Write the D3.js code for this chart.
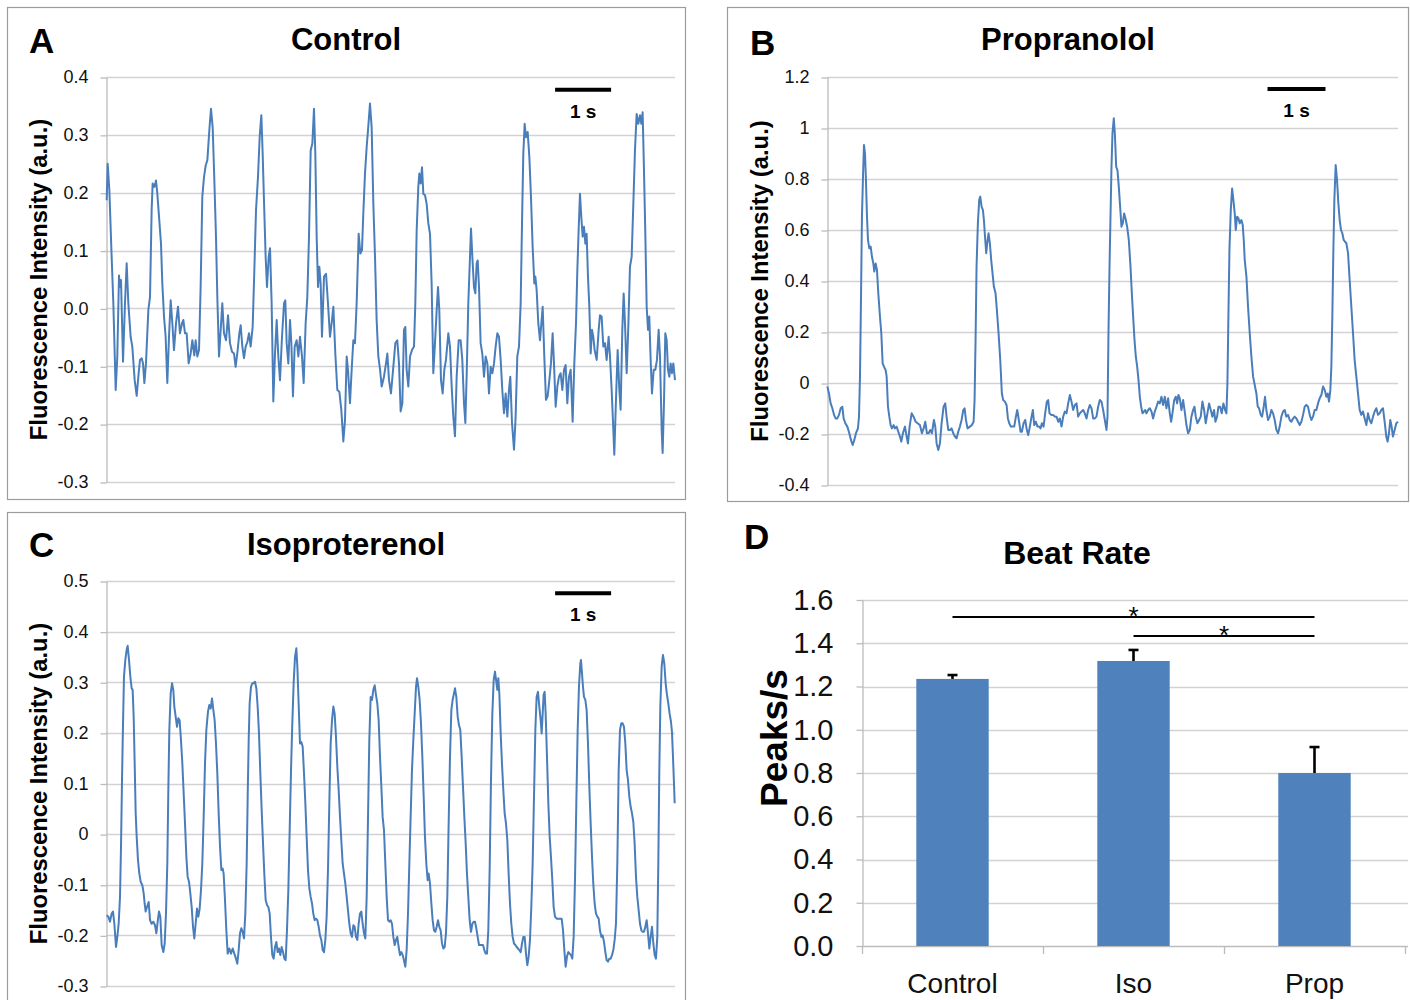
<!DOCTYPE html>
<html><head><meta charset="utf-8">
<script src="https://cdn.jsdelivr.net/npm/d3@7/dist/d3.min.js"></script>
<style>
body{margin:0;background:#fff;}
svg{display:block;font-family:"Liberation Sans",Arial,Helvetica,sans-serif;}
</style></head><body>
<svg id="chart" width="1410" height="1000"></svg>
<script>
// ---------- DATA ----------
// time (s), fluorescence (a.u.)
const controlTrace = [[0.012,0.187],[0.030,0.250],[0.060,0.204],[0.101,0.089],[0.131,0.009],[0.173,-0.141],[0.202,-0.083],[0.232,0.057],[0.250,0.037],[0.268,0.049],[0.304,-0.092],[0.339,0.009],[0.369,0.078],[0.399,0.009],[0.440,-0.049],[0.470,-0.066],[0.512,-0.124],[0.548,-0.151],[0.583,-0.112],[0.607,-0.089],[0.637,-0.086],[0.661,-0.095],[0.685,-0.129],[0.714,-0.095],[0.756,-0.003],[0.786,0.020],[0.815,0.170],[0.833,0.216],[0.863,0.210],[0.893,0.221],[0.917,0.198],[0.952,0.152],[0.982,0.112],[1.006,0.043],[1.036,-0.014],[1.065,-0.049],[1.095,-0.129],[1.125,-0.049],[1.155,0.014],[1.185,-0.026],[1.214,-0.072],[1.250,-0.026],[1.286,0.003],[1.321,-0.043],[1.357,-0.026],[1.381,-0.020],[1.411,-0.043],[1.440,-0.043],[1.476,-0.095],[1.512,-0.078],[1.542,-0.055],[1.577,-0.081],[1.601,-0.055],[1.631,-0.083],[1.661,-0.072],[1.690,0.037],[1.720,0.193],[1.750,0.227],[1.780,0.247],[1.810,0.256],[1.845,0.308],[1.875,0.345],[1.905,0.313],[1.935,0.221],[1.964,0.124],[1.988,0.020],[2.018,-0.083],[2.048,-0.037],[2.077,0.009],[2.107,-0.043],[2.143,-0.055],[2.179,-0.012],[2.214,-0.060],[2.250,-0.075],[2.286,-0.078],[2.315,-0.101],[2.351,-0.072],[2.381,-0.043],[2.405,-0.029],[2.435,-0.066],[2.464,-0.086],[2.494,-0.066],[2.524,-0.058],[2.554,-0.043],[2.583,-0.066],[2.619,-0.032],[2.649,0.066],[2.679,0.170],[2.714,0.227],[2.744,0.296],[2.774,0.334],[2.798,0.267],[2.821,0.187],[2.851,0.089],[2.875,0.037],[2.905,0.089],[2.929,0.104],[2.958,0.009],[2.988,-0.161],[3.018,-0.078],[3.048,-0.020],[3.077,-0.083],[3.107,-0.124],[3.143,-0.049],[3.179,0.009],[3.202,0.014],[3.226,-0.060],[3.256,-0.095],[3.286,-0.020],[3.310,-0.060],[3.339,-0.152],[3.369,-0.066],[3.405,-0.055],[3.435,-0.083],[3.464,-0.049],[3.500,-0.083],[3.530,-0.129],[3.565,-0.026],[3.595,0.020],[3.625,0.124],[3.655,0.273],[3.685,0.285],[3.714,0.345],[3.738,0.267],[3.762,0.124],[3.786,0.037],[3.810,0.072],[3.833,0.043],[3.857,-0.049],[3.893,0.055],[3.929,0.060],[3.964,0.009],[4.000,-0.049],[4.036,-0.020],[4.060,0.003],[4.095,-0.078],[4.131,-0.141],[4.167,-0.144],[4.202,-0.175],[4.238,-0.230],[4.268,-0.193],[4.298,-0.083],[4.321,-0.106],[4.357,-0.164],[4.387,-0.106],[4.417,-0.055],[4.446,-0.060],[4.476,0.009],[4.512,0.129],[4.542,0.095],[4.571,0.101],[4.595,0.164],[4.625,0.233],[4.655,0.279],[4.685,0.316],[4.714,0.354],[4.744,0.313],[4.774,0.181],[4.804,0.089],[4.833,-0.020],[4.863,-0.083],[4.893,-0.105],[4.923,-0.135],[4.964,-0.118],[5.000,-0.095],[5.024,-0.078],[5.054,-0.124],[5.089,-0.147],[5.131,-0.101],[5.167,-0.060],[5.202,-0.055],[5.232,-0.095],[5.262,-0.178],[5.292,-0.164],[5.321,-0.037],[5.345,-0.032],[5.369,-0.106],[5.399,-0.135],[5.429,-0.083],[5.464,-0.072],[5.500,-0.066],[5.524,0.009],[5.548,0.135],[5.577,0.210],[5.595,0.233],[5.619,0.216],[5.643,0.244],[5.667,0.198],[5.696,0.196],[5.726,0.181],[5.756,0.147],[5.786,0.129],[5.815,0.043],[5.845,-0.112],[5.875,-0.060],[5.905,-0.003],[5.929,0.037],[5.952,-0.003],[5.982,-0.124],[6.012,-0.147],[6.042,-0.106],[6.071,-0.089],[6.113,-0.043],[6.143,-0.066],[6.173,-0.135],[6.202,-0.187],[6.232,-0.221],[6.262,-0.118],[6.298,-0.055],[6.333,-0.055],[6.363,-0.089],[6.393,-0.164],[6.417,-0.198],[6.440,-0.118],[6.470,0.009],[6.500,0.089],[6.518,0.138],[6.542,0.089],[6.571,0.037],[6.595,0.026],[6.619,0.078],[6.637,0.083],[6.661,0.037],[6.690,-0.060],[6.720,-0.078],[6.750,-0.118],[6.780,-0.083],[6.810,-0.095],[6.839,-0.147],[6.869,-0.101],[6.899,-0.112],[6.929,-0.095],[6.958,-0.066],[6.988,-0.043],[7.018,-0.049],[7.048,-0.089],[7.077,-0.141],[7.107,-0.181],[7.137,-0.147],[7.167,-0.187],[7.196,-0.141],[7.220,-0.118],[7.250,-0.198],[7.286,-0.244],[7.315,-0.187],[7.345,-0.083],[7.375,-0.066],[7.405,0.009],[7.429,0.147],[7.452,0.267],[7.476,0.319],[7.500,0.296],[7.530,0.305],[7.560,0.262],[7.589,0.193],[7.619,0.106],[7.649,0.043],[7.667,0.055],[7.690,0.032],[7.720,-0.026],[7.750,-0.055],[7.774,-0.026],[7.798,0.003],[7.827,-0.083],[7.857,-0.158],[7.887,-0.152],[7.917,-0.124],[7.946,-0.095],[7.976,-0.043],[8.000,-0.095],[8.030,-0.170],[8.060,-0.135],[8.089,-0.118],[8.119,-0.112],[8.149,-0.141],[8.179,-0.106],[8.208,-0.098],[8.238,-0.164],[8.268,-0.118],[8.298,-0.106],[8.333,-0.196],[8.363,-0.095],[8.393,-0.026],[8.417,0.066],[8.440,0.135],[8.464,0.198],[8.488,0.158],[8.512,0.124],[8.536,0.141],[8.560,0.112],[8.583,0.129],[8.607,0.055],[8.631,0.003],[8.655,-0.078],[8.679,-0.037],[8.702,-0.049],[8.726,-0.072],[8.762,-0.089],[8.798,-0.037],[8.821,-0.012],[8.851,-0.014],[8.881,-0.066],[8.911,-0.060],[8.940,-0.089],[8.976,-0.049],[9.000,-0.083],[9.030,-0.141],[9.060,-0.210],[9.077,-0.253],[9.107,-0.158],[9.137,-0.072],[9.167,-0.141],[9.190,-0.175],[9.220,-0.037],[9.244,0.026],[9.268,-0.026],[9.298,-0.112],[9.327,-0.032],[9.357,0.072],[9.387,0.089],[9.417,0.181],[9.446,0.273],[9.476,0.336],[9.506,0.319],[9.536,0.334],[9.560,0.319],[9.583,0.339],[9.607,0.239],[9.631,0.129],[9.655,0.003],[9.679,-0.037],[9.702,-0.014],[9.726,-0.089],[9.750,-0.147],[9.780,-0.106],[9.810,-0.106],[9.839,-0.089],[9.869,-0.037],[9.893,-0.083],[9.923,-0.210],[9.940,-0.250],[9.964,-0.164],[9.988,-0.043],[10.012,-0.055],[10.036,-0.106],[10.060,-0.118],[10.083,-0.095],[10.107,-0.112],[10.131,-0.095],[10.161,-0.124]];

const propranololTrace = [[0.006,-0.014],[0.034,-0.041],[0.063,-0.080],[0.092,-0.099],[0.121,-0.125],[0.149,-0.139],[0.178,-0.139],[0.207,-0.125],[0.236,-0.099],[0.264,-0.093],[0.287,-0.139],[0.316,-0.158],[0.351,-0.171],[0.385,-0.197],[0.414,-0.224],[0.443,-0.243],[0.471,-0.224],[0.500,-0.197],[0.534,-0.178],[0.552,-0.132],[0.569,0.025],[0.586,0.325],[0.603,0.652],[0.621,0.809],[0.638,0.933],[0.655,0.901],[0.672,0.796],[0.690,0.652],[0.707,0.561],[0.730,0.528],[0.753,0.535],[0.776,0.495],[0.799,0.469],[0.816,0.437],[0.839,0.469],[0.862,0.443],[0.885,0.352],[0.914,0.260],[0.937,0.195],[0.960,0.077],[0.983,0.064],[1.011,0.051],[1.029,0.025],[1.052,-0.093],[1.075,-0.132],[1.098,-0.165],[1.121,-0.178],[1.149,-0.165],[1.172,-0.178],[1.201,-0.171],[1.230,-0.191],[1.259,-0.210],[1.282,-0.230],[1.310,-0.197],[1.345,-0.171],[1.374,-0.210],[1.397,-0.237],[1.425,-0.171],[1.460,-0.119],[1.494,-0.132],[1.529,-0.152],[1.563,-0.158],[1.603,-0.165],[1.638,-0.197],[1.667,-0.178],[1.695,-0.152],[1.724,-0.197],[1.753,-0.197],[1.782,-0.184],[1.810,-0.197],[1.845,-0.145],[1.868,-0.171],[1.891,-0.237],[1.920,-0.263],[1.948,-0.237],[1.977,-0.158],[2.011,-0.093],[2.040,-0.080],[2.063,-0.132],[2.092,-0.184],[2.121,-0.184],[2.149,-0.178],[2.178,-0.197],[2.207,-0.210],[2.236,-0.217],[2.264,-0.191],[2.293,-0.171],[2.322,-0.145],[2.351,-0.106],[2.374,-0.099],[2.397,-0.145],[2.425,-0.178],[2.466,-0.171],[2.500,-0.165],[2.529,-0.152],[2.546,-0.067],[2.563,0.169],[2.580,0.456],[2.603,0.626],[2.626,0.718],[2.644,0.731],[2.667,0.692],[2.690,0.678],[2.707,0.639],[2.730,0.561],[2.747,0.509],[2.764,0.548],[2.787,0.587],[2.810,0.548],[2.833,0.482],[2.856,0.430],[2.879,0.378],[2.908,0.352],[2.931,0.286],[2.960,0.195],[2.989,0.090],[3.017,-0.041],[3.040,-0.067],[3.069,-0.073],[3.098,-0.086],[3.121,-0.139],[3.144,-0.158],[3.172,-0.171],[3.201,-0.171],[3.230,-0.171],[3.259,-0.132],[3.282,-0.106],[3.310,-0.145],[3.339,-0.191],[3.362,-0.191],[3.391,-0.158],[3.420,-0.145],[3.443,-0.178],[3.471,-0.204],[3.500,-0.171],[3.529,-0.132],[3.552,-0.106],[3.575,-0.165],[3.603,-0.152],[3.632,-0.171],[3.661,-0.171],[3.684,-0.178],[3.707,-0.158],[3.736,-0.171],[3.764,-0.119],[3.793,-0.073],[3.816,-0.067],[3.839,-0.119],[3.868,-0.125],[3.902,-0.125],[3.931,-0.132],[3.960,-0.132],[3.989,-0.152],[4.017,-0.139],[4.046,-0.171],[4.075,-0.132],[4.103,-0.112],[4.132,-0.119],[4.161,-0.080],[4.190,-0.047],[4.218,-0.073],[4.247,-0.106],[4.276,-0.086],[4.305,-0.080],[4.333,-0.132],[4.362,-0.119],[4.391,-0.112],[4.420,-0.106],[4.448,-0.119],[4.477,-0.139],[4.506,-0.106],[4.534,-0.086],[4.563,-0.099],[4.592,-0.139],[4.621,-0.139],[4.649,-0.132],[4.678,-0.093],[4.707,-0.067],[4.736,-0.073],[4.764,-0.106],[4.793,-0.145],[4.822,-0.184],[4.839,-0.132],[4.856,0.195],[4.874,0.456],[4.891,0.652],[4.908,0.848],[4.925,0.979],[4.948,1.038],[4.966,0.979],[4.989,0.848],[5.011,0.835],[5.034,0.770],[5.057,0.692],[5.080,0.613],[5.103,0.626],[5.126,0.665],[5.149,0.646],[5.178,0.613],[5.207,0.561],[5.236,0.456],[5.259,0.352],[5.282,0.260],[5.305,0.169],[5.328,0.103],[5.351,0.064],[5.374,0.012],[5.397,-0.054],[5.420,-0.093],[5.443,-0.119],[5.466,-0.112],[5.489,-0.106],[5.511,-0.119],[5.540,-0.106],[5.569,-0.099],[5.598,-0.112],[5.626,-0.139],[5.655,-0.112],[5.684,-0.093],[5.713,-0.073],[5.741,-0.080],[5.770,-0.054],[5.799,-0.086],[5.828,-0.054],[5.856,-0.099],[5.885,-0.060],[5.914,-0.119],[5.937,-0.152],[5.960,-0.119],[5.989,-0.067],[6.017,-0.054],[6.040,-0.080],[6.063,-0.047],[6.086,-0.060],[6.115,-0.106],[6.144,-0.067],[6.172,-0.112],[6.201,-0.165],[6.230,-0.197],[6.259,-0.184],[6.287,-0.132],[6.316,-0.106],[6.339,-0.093],[6.362,-0.132],[6.391,-0.158],[6.420,-0.145],[6.448,-0.132],[6.477,-0.073],[6.506,-0.106],[6.534,-0.158],[6.563,-0.119],[6.592,-0.080],[6.621,-0.106],[6.649,-0.132],[6.678,-0.106],[6.701,-0.152],[6.730,-0.132],[6.753,-0.093],[6.782,-0.093],[6.810,-0.119],[6.839,-0.080],[6.868,-0.106],[6.891,-0.119],[6.908,-0.001],[6.925,0.260],[6.943,0.522],[6.966,0.678],[6.989,0.763],[7.011,0.718],[7.034,0.665],[7.052,0.600],[7.075,0.652],[7.098,0.646],[7.121,0.626],[7.149,0.639],[7.172,0.620],[7.190,0.561],[7.207,0.482],[7.236,0.417],[7.264,0.299],[7.293,0.195],[7.322,0.103],[7.351,0.025],[7.379,-0.008],[7.408,-0.041],[7.431,-0.093],[7.454,-0.099],[7.483,-0.125],[7.506,-0.132],[7.534,-0.093],[7.557,-0.054],[7.580,-0.106],[7.609,-0.145],[7.638,-0.132],[7.667,-0.106],[7.695,-0.119],[7.724,-0.145],[7.753,-0.184],[7.782,-0.197],[7.810,-0.171],[7.839,-0.132],[7.868,-0.112],[7.897,-0.106],[7.925,-0.132],[7.954,-0.125],[7.983,-0.145],[8.011,-0.152],[8.040,-0.139],[8.069,-0.132],[8.098,-0.139],[8.126,-0.152],[8.155,-0.165],[8.184,-0.152],[8.213,-0.125],[8.241,-0.093],[8.270,-0.086],[8.299,-0.093],[8.328,-0.125],[8.356,-0.145],[8.385,-0.132],[8.414,-0.106],[8.443,-0.106],[8.471,-0.080],[8.500,-0.060],[8.529,-0.047],[8.557,-0.014],[8.586,-0.027],[8.615,-0.054],[8.638,-0.041],[8.661,-0.073],[8.684,-0.027],[8.701,0.064],[8.718,0.260],[8.736,0.522],[8.753,0.718],[8.776,0.855],[8.799,0.796],[8.822,0.705],[8.845,0.639],[8.868,0.600],[8.891,0.587],[8.914,0.561],[8.937,0.554],[8.960,0.548],[8.989,0.509],[9.017,0.404],[9.046,0.299],[9.075,0.195],[9.103,0.090],[9.132,0.025],[9.161,-0.041],[9.190,-0.106],[9.218,-0.125],[9.247,-0.112],[9.276,-0.139],[9.305,-0.165],[9.333,-0.119],[9.362,-0.145],[9.391,-0.158],[9.420,-0.132],[9.448,-0.112],[9.477,-0.099],[9.506,-0.125],[9.534,-0.119],[9.563,-0.106],[9.592,-0.099],[9.621,-0.152],[9.649,-0.210],[9.672,-0.230],[9.695,-0.197],[9.718,-0.145],[9.741,-0.171],[9.764,-0.210],[9.793,-0.184],[9.822,-0.158],[9.851,-0.152]];

const isoproterenolTrace = [[0.012,-0.160],[0.042,-0.163],[0.071,-0.173],[0.101,-0.157],[0.125,-0.153],[0.149,-0.177],[0.179,-0.223],[0.202,-0.203],[0.226,-0.177],[0.250,-0.124],[0.268,-0.025],[0.286,0.107],[0.304,0.219],[0.321,0.311],[0.345,0.344],[0.369,0.364],[0.387,0.372],[0.411,0.344],[0.435,0.311],[0.458,0.288],[0.476,0.285],[0.494,0.232],[0.512,0.140],[0.530,0.041],[0.548,-0.005],[0.571,-0.051],[0.595,-0.078],[0.619,-0.094],[0.649,-0.101],[0.673,-0.117],[0.690,-0.137],[0.708,-0.153],[0.732,-0.144],[0.762,-0.134],[0.786,-0.170],[0.815,-0.177],[0.845,-0.173],[0.875,-0.180],[0.899,-0.196],[0.923,-0.173],[0.946,-0.153],[0.970,-0.163],[0.994,-0.219],[1.024,-0.233],[1.048,-0.216],[1.071,-0.157],[1.095,-0.058],[1.113,0.087],[1.131,0.206],[1.155,0.278],[1.179,0.298],[1.202,0.285],[1.220,0.252],[1.244,0.232],[1.268,0.212],[1.292,0.229],[1.315,0.225],[1.339,0.186],[1.363,0.140],[1.387,0.080],[1.411,0.021],[1.435,-0.045],[1.458,-0.084],[1.482,-0.094],[1.506,-0.117],[1.530,-0.144],[1.554,-0.183],[1.577,-0.206],[1.601,-0.177],[1.625,-0.147],[1.649,-0.163],[1.673,-0.147],[1.696,-0.111],[1.720,-0.058],[1.744,0.034],[1.768,0.140],[1.792,0.206],[1.821,0.242],[1.845,0.255],[1.869,0.248],[1.893,0.268],[1.917,0.245],[1.940,0.225],[1.964,0.179],[1.988,0.120],[2.012,0.041],[2.036,-0.025],[2.060,-0.071],[2.083,-0.068],[2.101,-0.078],[2.125,-0.130],[2.149,-0.190],[2.173,-0.236],[2.202,-0.226],[2.232,-0.236],[2.262,-0.226],[2.292,-0.236],[2.321,-0.246],[2.345,-0.256],[2.369,-0.229],[2.393,-0.196],[2.417,-0.186],[2.440,-0.193],[2.464,-0.206],[2.488,-0.157],[2.512,-0.058],[2.530,0.074],[2.548,0.186],[2.565,0.258],[2.589,0.291],[2.613,0.298],[2.637,0.298],[2.661,0.301],[2.685,0.288],[2.708,0.252],[2.732,0.199],[2.756,0.120],[2.780,0.047],[2.804,-0.018],[2.827,-0.078],[2.851,-0.130],[2.875,-0.140],[2.899,-0.144],[2.923,-0.157],[2.946,-0.203],[2.970,-0.239],[2.994,-0.246],[3.018,-0.223],[3.042,-0.213],[3.065,-0.233],[3.089,-0.226],[3.113,-0.239],[3.137,-0.223],[3.161,-0.233],[3.185,-0.246],[3.208,-0.249],[3.232,-0.190],[3.256,-0.111],[3.280,0.008],[3.304,0.126],[3.327,0.219],[3.351,0.298],[3.375,0.350],[3.399,0.367],[3.417,0.331],[3.440,0.258],[3.464,0.179],[3.488,0.182],[3.512,0.173],[3.536,0.120],[3.560,0.061],[3.583,-0.005],[3.607,-0.071],[3.631,-0.107],[3.655,-0.124],[3.679,-0.137],[3.702,-0.157],[3.726,-0.170],[3.750,-0.167],[3.774,-0.170],[3.798,-0.183],[3.821,-0.200],[3.845,-0.209],[3.869,-0.229],[3.893,-0.233],[3.917,-0.209],[3.940,-0.163],[3.964,-0.071],[3.988,0.061],[4.012,0.179],[4.036,0.225],[4.060,0.252],[4.083,0.238],[4.107,0.192],[4.131,0.133],[4.155,0.087],[4.179,0.034],[4.202,-0.012],[4.226,-0.058],[4.250,-0.078],[4.274,-0.098],[4.298,-0.124],[4.321,-0.150],[4.345,-0.177],[4.369,-0.196],[4.393,-0.203],[4.417,-0.180],[4.440,-0.183],[4.464,-0.203],[4.488,-0.209],[4.512,-0.177],[4.536,-0.157],[4.560,-0.153],[4.583,-0.177],[4.607,-0.196],[4.631,-0.206],[4.655,-0.124],[4.679,0.034],[4.702,0.186],[4.726,0.271],[4.750,0.265],[4.774,0.285],[4.798,0.294],[4.821,0.275],[4.845,0.258],[4.869,0.225],[4.893,0.153],[4.917,0.094],[4.940,0.034],[4.964,0.008],[4.988,-0.058],[5.012,-0.124],[5.036,-0.170],[5.060,-0.173],[5.083,-0.170],[5.107,-0.177],[5.131,-0.203],[5.155,-0.219],[5.179,-0.209],[5.202,-0.203],[5.226,-0.223],[5.250,-0.239],[5.274,-0.233],[5.298,-0.239],[5.321,-0.249],[5.345,-0.262],[5.369,-0.229],[5.393,-0.157],[5.417,-0.058],[5.440,0.034],[5.464,0.126],[5.488,0.186],[5.512,0.238],[5.536,0.291],[5.554,0.308],[5.577,0.291],[5.601,0.265],[5.625,0.219],[5.649,0.153],[5.673,0.074],[5.696,-0.005],[5.720,-0.058],[5.744,-0.091],[5.762,-0.078],[5.786,-0.098],[5.810,-0.137],[5.833,-0.170],[5.857,-0.190],[5.881,-0.193],[5.905,-0.183],[5.929,-0.170],[5.952,-0.183],[5.976,-0.190],[6.000,-0.216],[6.024,-0.226],[6.048,-0.223],[6.071,-0.196],[6.095,-0.124],[6.119,0.021],[6.143,0.153],[6.167,0.245],[6.190,0.265],[6.214,0.278],[6.232,0.288],[6.256,0.271],[6.280,0.232],[6.304,0.215],[6.327,0.206],[6.351,0.153],[6.375,0.094],[6.399,0.034],[6.423,-0.018],[6.446,-0.078],[6.470,-0.124],[6.494,-0.170],[6.518,-0.193],[6.542,-0.177],[6.565,-0.173],[6.589,-0.173],[6.613,-0.186],[6.637,-0.203],[6.661,-0.219],[6.685,-0.219],[6.708,-0.219],[6.732,-0.219],[6.756,-0.229],[6.780,-0.236],[6.804,-0.236],[6.827,-0.190],[6.851,-0.071],[6.875,0.107],[6.899,0.238],[6.923,0.304],[6.946,0.321],[6.970,0.301],[6.988,0.285],[7.006,0.308],[7.024,0.278],[7.048,0.199],[7.071,0.140],[7.095,0.087],[7.119,0.041],[7.143,0.021],[7.167,-0.012],[7.190,-0.078],[7.214,-0.137],[7.238,-0.177],[7.262,-0.203],[7.286,-0.216],[7.310,-0.219],[7.333,-0.223],[7.357,-0.226],[7.381,-0.229],[7.405,-0.233],[7.429,-0.216],[7.452,-0.203],[7.476,-0.203],[7.500,-0.236],[7.524,-0.259],[7.548,-0.242],[7.571,-0.209],[7.595,-0.144],[7.619,-0.058],[7.643,0.074],[7.667,0.206],[7.690,0.271],[7.714,0.281],[7.738,0.252],[7.762,0.225],[7.780,0.199],[7.798,0.238],[7.815,0.275],[7.833,0.281],[7.851,0.238],[7.875,0.153],[7.899,0.061],[7.923,-0.005],[7.946,-0.045],[7.970,-0.091],[7.994,-0.144],[8.018,-0.163],[8.048,-0.167],[8.077,-0.167],[8.107,-0.167],[8.137,-0.167],[8.161,-0.190],[8.185,-0.229],[8.208,-0.262],[8.232,-0.242],[8.256,-0.233],[8.280,-0.236],[8.304,-0.239],[8.327,-0.246],[8.351,-0.203],[8.375,-0.091],[8.399,0.061],[8.423,0.206],[8.446,0.291],[8.470,0.337],[8.482,0.344],[8.500,0.318],[8.518,0.291],[8.536,0.271],[8.560,0.265],[8.583,0.245],[8.607,0.179],[8.631,0.094],[8.655,0.021],[8.679,-0.045],[8.702,-0.098],[8.726,-0.137],[8.750,-0.157],[8.774,-0.163],[8.798,-0.167],[8.821,-0.190],[8.845,-0.203],[8.869,-0.200],[8.893,-0.213],[8.917,-0.233],[8.940,-0.249],[8.964,-0.252],[8.988,-0.246],[9.012,-0.246],[9.036,-0.239],[9.060,-0.229],[9.083,-0.209],[9.107,-0.177],[9.131,-0.058],[9.155,0.126],[9.179,0.206],[9.202,0.219],[9.226,0.219],[9.250,0.212],[9.274,0.179],[9.298,0.126],[9.321,0.107],[9.345,0.074],[9.369,0.054],[9.393,0.041],[9.417,0.024],[9.440,-0.018],[9.464,-0.084],[9.488,-0.124],[9.512,-0.150],[9.536,-0.177],[9.560,-0.190],[9.583,-0.193],[9.607,-0.193],[9.631,-0.183],[9.655,-0.170],[9.679,-0.196],[9.702,-0.226],[9.726,-0.203],[9.750,-0.183],[9.774,-0.216],[9.798,-0.239],[9.821,-0.246],[9.845,-0.203],[9.863,-0.058],[9.881,0.126],[9.899,0.252],[9.923,0.331],[9.946,0.354],[9.970,0.337],[9.994,0.298],[10.018,0.275],[10.042,0.258],[10.065,0.238],[10.089,0.222],[10.107,0.202],[10.125,0.153],[10.143,0.100],[10.155,0.061]];

const controlTicks = [0.4, 0.3, 0.2, 0.1, 0.0, -0.1, -0.2, -0.3];
const controlTickLabels = ["0.4", "0.3", "0.2", "0.1", "0.0", "-0.1", "-0.2", "-0.3"];
const propTicks = [1.2, 1.0, 0.8, 0.6, 0.4, 0.2, 0, -0.2, -0.4];
const propTickLabels = ["1.2", "1", "0.8", "0.6", "0.4", "0.2", "0", "-0.2", "-0.4"];
const isoTicks = [0.5, 0.4, 0.3, 0.2, 0.1, 0, -0.1, -0.2, -0.3];
const isoTickLabels = ["0.5", "0.4", "0.3", "0.2", "0.1", "0", "-0.1", "-0.2", "-0.3"];

const beatCategories = ["Control", "Iso", "Prop"];
const beatRates = [1.235, 1.318, 0.800];
const beatErrors = [0.018, 0.051, 0.120];
const beatTicks = [0.0, 0.2, 0.4, 0.6, 0.8, 1.0, 1.2, 1.4, 1.6];
const beatTickLabels = ["0.0", "0.2", "0.4", "0.6", "0.8", "1.0", "1.2", "1.4", "1.6"];
const sigFrom = ["Control", "Iso"];
const sigTo = ["Prop", "Prop"];
const sigLevel = [1.521, 1.433];

// ---------- DRAWING ----------
const svg = d3.select("#chart");
const BLUE = "#4a7ebb";
const GRID = "#d2d2d2";
const AXISC = "#bcbcbc";
const BOX = "#9c9c9c";
const crisp = v => Math.round(v) + 0.5;

function tracePanel(cfg) {
  const g = svg.append("g");
  g.append("rect")
    .attr("x", cfg.box[0]).attr("y", cfg.box[1])
    .attr("width", cfg.box[2]).attr("height", cfg.box[3])
    .attr("fill", "#fff").attr("stroke", BOX).attr("stroke-width", 1.2);

  const x = d3.scaleLinear().domain(cfg.xDomain).range([cfg.x0, cfg.x1]);
  const y = d3.scaleLinear().domain(cfg.yDomain).range([cfg.y1, cfg.y0]);

  g.append("g").selectAll("line").data(cfg.ticks).join("line")
    .attr("x1", cfg.x0).attr("x2", cfg.x1)
    .attr("y1", d => crisp(y(d))).attr("y2", d => crisp(y(d)))
    .attr("stroke", GRID).attr("stroke-width", 1.3);

  const axis = d3.axisLeft(y).tickValues(cfg.ticks)
    .tickFormat((d, i) => cfg.labels[i]).tickSize(6).tickSizeOuter(0).tickPadding(12);
  const ag = g.append("g").attr("transform", `translate(${crisp(cfg.x0)},0)`).call(axis);
  ag.select(".domain").attr("stroke", AXISC).attr("stroke-width", 1.3);
  ag.selectAll(".tick line").attr("stroke", AXISC).attr("stroke-width", 1.3)
    .attr("transform", "translate(0,0.5)");
  ag.selectAll(".tick text").attr("font-size", 18).attr("fill", "#111")
    .attr("font-family", '"Liberation Sans",Arial,sans-serif');

  const line = d3.line().x(d => x(d[0])).y(d => y(d[1]));
  g.append("path").datum(cfg.data).attr("d", line)
    .attr("fill", "none").attr("stroke", BLUE).attr("stroke-width", 2)
    .attr("stroke-linejoin", "round");

  // scale bar (1 s)
  const sx0 = x(cfg.barStart), sx1 = x(cfg.barStart + 1), sy = y(cfg.barLevel);
  g.append("line").attr("x1", sx0).attr("x2", sx1).attr("y1", sy).attr("y2", sy)
    .attr("stroke", "#000").attr("stroke-width", 4);
  g.append("text").attr("x", (sx0 + sx1) / 2).attr("y", sy + 28)
    .attr("text-anchor", "middle").attr("font-weight", "bold").attr("font-size", 19)
    .text("1 s");

  g.append("text").attr("x", cfg.titleX).attr("y", cfg.titleY)
    .attr("text-anchor", "middle").attr("font-weight", "bold").attr("font-size", 31)
    .text(cfg.title);
  g.append("text").attr("x", cfg.letterX).attr("y", cfg.letterY)
    .attr("font-weight", "bold").attr("font-size", 35).text(cfg.letter);
  const cy = (cfg.y0 + cfg.y1) / 2;
  g.append("text").attr("transform", `translate(${cfg.ylabelX},${cy}) rotate(-90)`)
    .attr("text-anchor", "middle").attr("font-weight", "bold").attr("font-size", 23.8)
    .text("Fluorescence Intensity (a.u.)");
}

tracePanel({box: [7.5, 7.5, 678, 492], x0: 106, x1: 675, y0: 77, y1: 482,
  xDomain: [0, 10.161], yDomain: [-0.3, 0.4], ticks: controlTicks, labels: controlTickLabels,
  data: controlTrace, barStart: 8.02, barLevel: 0.378,
  title: "Control", titleX: 346, titleY: 50, letter: "A", letterX: 29, letterY: 53, ylabelX: 47});

tracePanel({box: [727.5, 7.5, 681, 494], x0: 827, x1: 1398, y0: 77, y1: 485,
  xDomain: [0, 9.851], yDomain: [-0.4, 1.2], ticks: propTicks, labels: propTickLabels,
  data: propranololTrace, barStart: 7.60, barLevel: 1.153,
  title: "Propranolol", titleX: 1068, titleY: 50, letter: "B", letterX: 750, letterY: 55, ylabelX: 768});

tracePanel({box: [7.5, 512.5, 678, 500], x0: 106, x1: 675, y0: 581, y1: 986,
  xDomain: [0, 10.161], yDomain: [-0.3, 0.5], ticks: isoTicks, labels: isoTickLabels,
  data: isoproterenolTrace, barStart: 8.02, barLevel: 0.476,
  title: "Isoproterenol", titleX: 346, titleY: 555, letter: "C", letterX: 29, letterY: 557, ylabelX: 47});

// ---------- Panel D ----------
(function () {
  const g = svg.append("g");
  const X0 = 862, X1 = 1405, XR = 1408, Y0 = 600, Y1 = 946;
  const xb = d3.scaleBand().domain(beatCategories).range([X0, X1]).paddingInner(0.6).paddingOuter(0.3);
  const yb = d3.scaleLinear().domain([0, 1.6]).range([Y1, Y0]);
  const step = xb.step();
  const center = c => xb(c) + xb.bandwidth() / 2;

  g.append("g").selectAll("line").data(beatTicks.filter(d => d > 0)).join("line")
    .attr("x1", X0).attr("x2", XR)
    .attr("y1", d => crisp(yb(d))).attr("y2", d => crisp(yb(d)))
    .attr("stroke", GRID).attr("stroke-width", 1.3);

  const axis = d3.axisLeft(yb).tickValues(beatTicks)
    .tickFormat((d, i) => beatTickLabels[i]).tickSize(6).tickSizeOuter(0).tickPadding(23);
  const ag = g.append("g").attr("transform", `translate(${crisp(X0)},0)`).call(axis);
  ag.select(".domain").attr("stroke", AXISC).attr("stroke-width", 1.3);
  ag.selectAll(".tick line").attr("stroke", AXISC).attr("stroke-width", 1.3);
  ag.selectAll(".tick text").attr("font-size", 29).attr("fill", "#111")
    .attr("font-family", '"Liberation Sans",Arial,sans-serif');

  // bottom axis
  g.append("line").attr("x1", X0).attr("x2", XR).attr("y1", crisp(Y1)).attr("y2", crisp(Y1))
    .attr("stroke", AXISC).attr("stroke-width", 1.3);
  g.append("g").selectAll("line").data(d3.range(beatCategories.length + 1)).join("line")
    .attr("x1", i => crisp(xb(beatCategories[0]) - step * 0.3 + i * step))
    .attr("x2", i => crisp(xb(beatCategories[0]) - step * 0.3 + i * step))
    .attr("y1", Y1).attr("y2", Y1 + 8)
    .attr("stroke", AXISC).attr("stroke-width", 1.3);

  g.append("g").selectAll("rect").data(beatCategories).join("rect")
    .attr("x", c => xb(c)).attr("width", xb.bandwidth())
    .attr("y", (c, i) => yb(beatRates[i])).attr("height", (c, i) => Y1 - yb(beatRates[i]))
    .attr("fill", "#4f81bd");

  const eg = g.append("g").attr("stroke", "#000").attr("stroke-width", 2.6);
  beatCategories.forEach((c, i) => {
    const cx = center(c);
    eg.append("line").attr("x1", cx).attr("x2", cx)
      .attr("y1", yb(beatRates[i])).attr("y2", yb(beatRates[i] + beatErrors[i]));
    eg.append("line").attr("x1", cx - 5).attr("x2", cx + 5)
      .attr("y1", yb(beatRates[i] + beatErrors[i])).attr("y2", yb(beatRates[i] + beatErrors[i]));
  });

  sigFrom.forEach((a, i) => {
    const xa = center(a), xc = center(sigTo[i]), yy = yb(sigLevel[i]);
    g.append("line").attr("x1", xa).attr("x2", xc).attr("y1", yy).attr("y2", yy)
      .attr("stroke", "#000").attr("stroke-width", 2);
    g.append("text").attr("x", (xa + xc) / 2).attr("y", yy + 8)
      .attr("text-anchor", "middle").attr("font-size", 26).text("*");
  });

  g.append("g").selectAll("text").data(beatCategories).join("text")
    .attr("x", c => center(c)).attr("y", 993)
    .attr("text-anchor", "middle").attr("font-size", 28).attr("fill", "#111").text(c => c);

  g.append("text").attr("transform", `translate(787,${(Y0 + Y1) / 2 - 35}) rotate(-90)`)
    .attr("text-anchor", "middle").attr("font-weight", "bold").attr("font-size", 37)
    .text("Peaks/s");

  g.append("text").attr("x", 1077).attr("y", 564).attr("text-anchor", "middle")
    .attr("font-weight", "bold").attr("font-size", 32).text("Beat Rate");
  g.append("text").attr("x", 744).attr("y", 549).attr("font-weight", "bold")
    .attr("font-size", 35).text("D");
})();
</script>
</body></html>
